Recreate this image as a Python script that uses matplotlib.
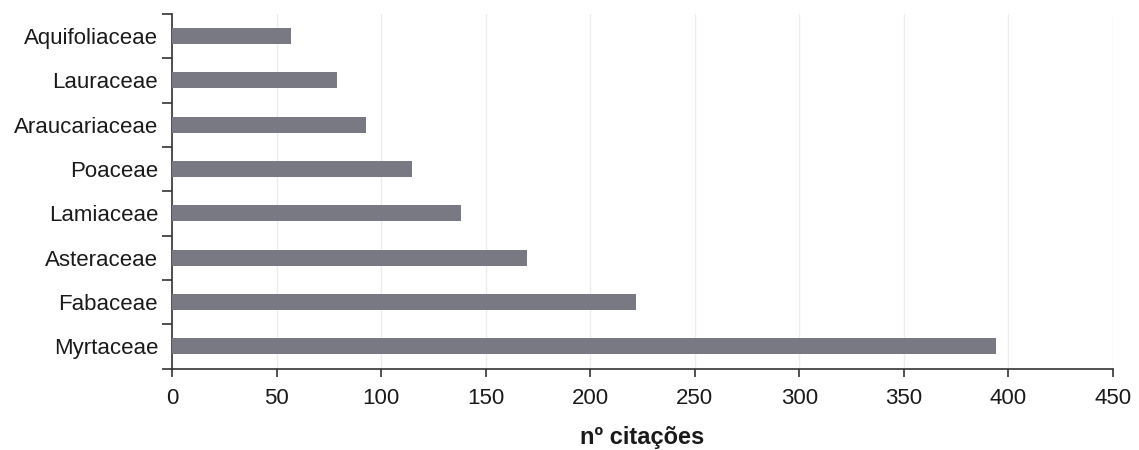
import matplotlib
matplotlib.use("Agg")
from matplotlib import pyplot as plt
import numpy as np

plt.rcParams['font.family'] = ['Liberation Sans', 'DejaVu Sans']

familias = ['Myrtaceae', 'Fabaceae', 'Asteraceae', 'Lamiaceae',
            'Poaceae', 'Araucariaceae', 'Lauraceae', 'Aquifoliaceae']
citacoes = [394, 222, 170, 138, 115, 93, 79, 57]
xticks = [0, 50, 100, 150, 200, 250, 300, 350, 400, 450]

fig = plt.figure(figsize=(11.39, 4.5), dpi=100)
ax = fig.add_axes([0.151, 0.181, 0.826, 0.788])

y = np.arange(len(familias))
ax.barh(y, citacoes, height=0.36, color='#797983', zorder=3)

ax.set_xlim(0, 450)
ax.set_ylim(-0.5, len(familias) - 0.5)
ax.set_xticks(xticks)
ax.set_yticks(y)
ax.set_yticklabels(familias)
# tiquinhos entre as categorias
ax.set_yticks(np.arange(len(familias) + 1) - 0.5, minor=True)

ax.grid(axis='x', color='#ececec', linewidth=1, zorder=0)
ax.tick_params(axis='y', which='major', length=0, labelsize=16,
               labelcolor='#1a1a1a', pad=10)
ax.tick_params(axis='y', which='minor', length=7, width=1.2, color='#333333')
ax.tick_params(axis='x', length=6, width=1.2, color='#333333', labelsize=16,
               labelcolor='#1a1a1a', pad=8)

for s in ['top', 'right']:
    ax.spines[s].set_visible(False)
ax.spines['left'].set_color('#333333')
ax.spines['bottom'].set_color('#333333')
ax.spines['left'].set_linewidth(1.2)
ax.spines['bottom'].set_linewidth(1.2)

ax.set_xlabel('nº citações', fontsize=17, fontweight='bold',
              color='#1a1a1a', labelpad=12)

fig.savefig('out.png', dpi=100)
